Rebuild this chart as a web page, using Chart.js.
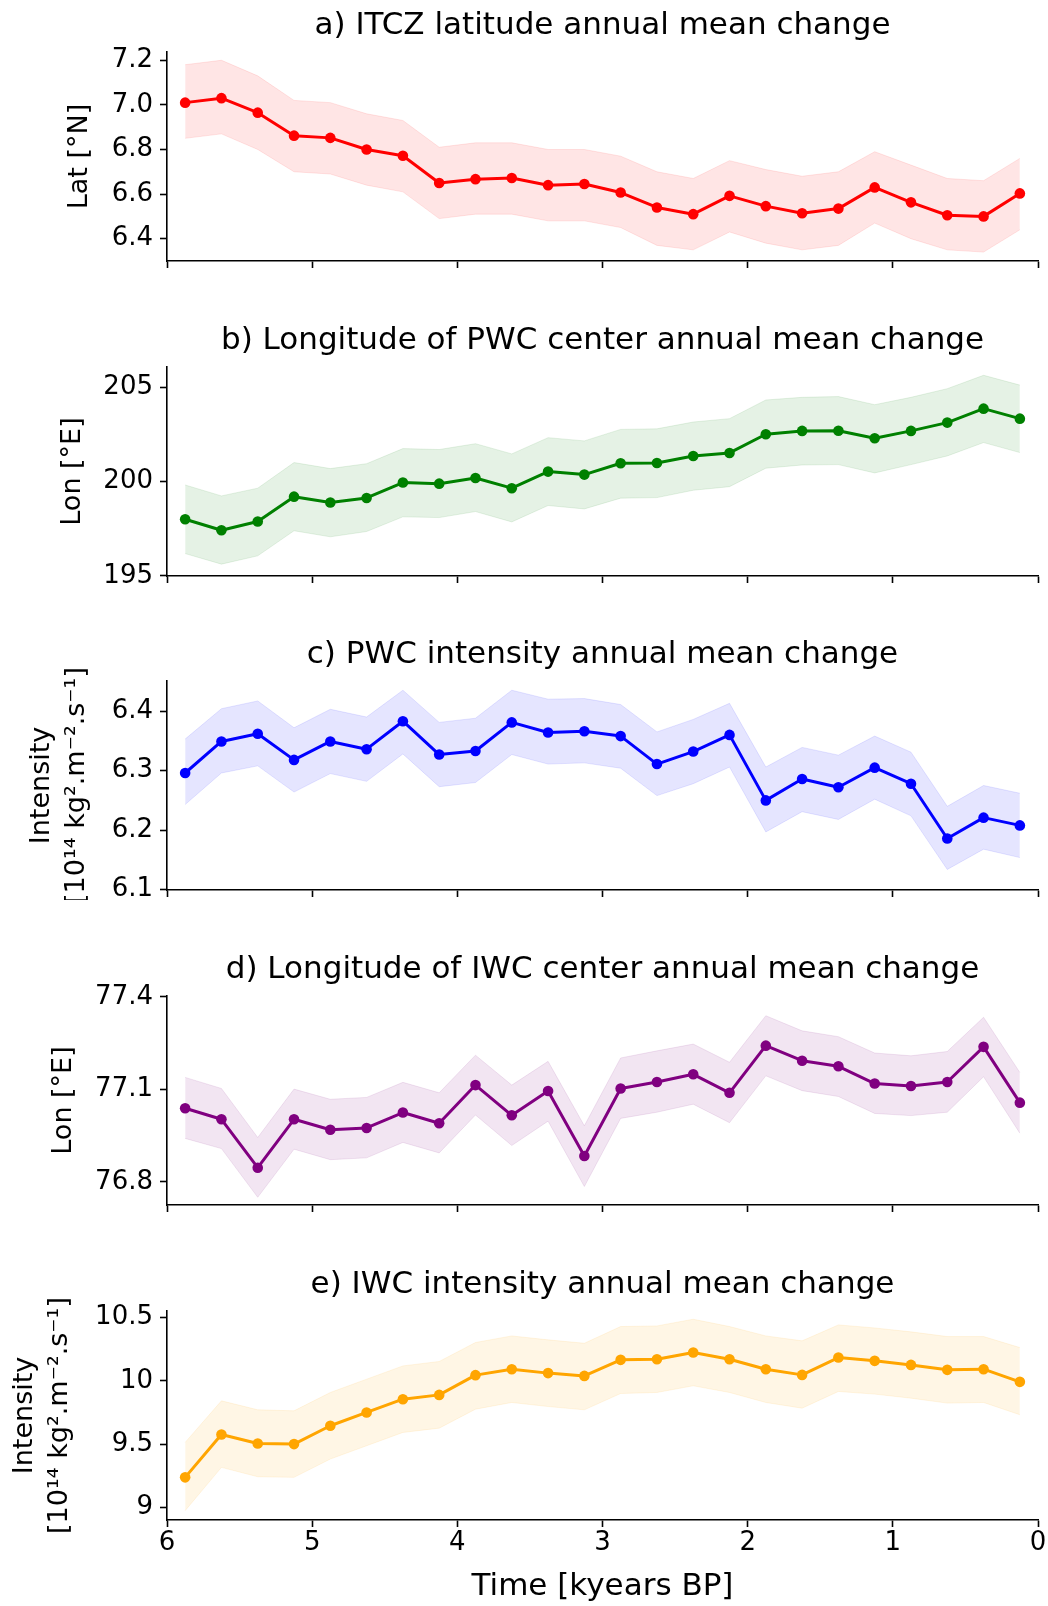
<!DOCTYPE html>
<html><head><meta charset="utf-8">
<script src="https://cdn.jsdelivr.net/npm/chart.js@4.4.1/dist/chart.umd.min.js"></script>
<style>
html,body{margin:0;padding:0;background:#fff;}
#wrap{position:relative;width:1048px;height:1606px;overflow:hidden;background:#fff;}
canvas{position:absolute;left:0;}
</style></head><body><div id="wrap">
<canvas id="c0" width="1048" height="271" style="top:0px"></canvas>
<canvas id="c1" width="1048" height="271" style="top:315px"></canvas>
<canvas id="c2" width="1048" height="271" style="top:629px"></canvas>
<canvas id="c3" width="1048" height="271" style="top:944px"></canvas>
<canvas id="c4" width="1048" height="347" style="top:1259px"></canvas>
</div>
<script>
// ---- data ----
const times = [5.875, 5.625, 5.375, 5.125, 4.875, 4.625, 4.375, 4.125, 3.875, 3.625, 3.375, 3.125,
               2.875, 2.625, 2.375, 2.125, 1.875, 1.625, 1.375, 1.125, 0.875, 0.625, 0.375, 0.125];
const timeTicks = [6, 5, 4, 3, 2, 1, 0];
const timeTickLabels = ['6', '5', '4', '3', '2', '1', '0'];

const itczMean  = [7.01, 7.03, 6.965, 6.862, 6.852, 6.80, 6.772, 6.65, 6.667, 6.672, 6.64, 6.645, 6.607, 6.54, 6.51, 6.592, 6.546, 6.514, 6.535, 6.63, 6.563, 6.505, 6.50, 6.603];
const itczUpper = [7.18, 7.20, 7.13, 7.02, 7.01, 6.96, 6.93, 6.81, 6.83, 6.83, 6.80, 6.80, 6.77, 6.70, 6.67, 6.75, 6.71, 6.68, 6.70, 6.79, 6.73, 6.67, 6.66, 6.76];
const itczLower = [6.85, 6.87, 6.80, 6.70, 6.69, 6.64, 6.61, 6.49, 6.51, 6.51, 6.48, 6.48, 6.45, 6.37, 6.35, 6.43, 6.38, 6.35, 6.37, 6.47, 6.40, 6.35, 6.34, 6.44];
const itczTicks = [6.4, 6.6, 6.8, 7.0, 7.2];
const itczTickLabels = ['6.4', '6.6', '6.8', '7.0', '7.2'];

const pwcLonMean  = [198.00, 197.42, 197.88, 199.20, 198.89, 199.13, 199.95, 199.89, 200.19, 199.65, 200.53, 200.37, 200.97, 200.99, 201.36, 201.52, 202.51, 202.69, 202.70, 202.30, 202.69, 203.13, 203.87, 203.34];
const pwcLonUpper = [199.82, 199.24, 199.65, 201.01, 200.69, 200.95, 201.75, 201.70, 202.01, 201.47, 202.33, 202.16, 202.77, 202.80, 203.16, 203.34, 204.33, 204.47, 204.51, 204.08, 204.47, 204.93, 205.64, 205.12];
const pwcLonLower = [196.18, 195.62, 196.06, 197.39, 197.07, 197.35, 198.13, 198.09, 198.41, 197.86, 198.73, 198.55, 199.12, 199.15, 199.54, 199.73, 200.71, 200.88, 200.90, 200.46, 200.90, 201.36, 202.07, 201.54];
const pwcLonTicks = [195, 200, 205];
const pwcLonTickLabels = ['195', '200', '205'];

const pwcIntMean  = [6.296, 6.349, 6.362, 6.318, 6.349, 6.336, 6.383, 6.327, 6.333, 6.381, 6.364, 6.366, 6.358, 6.311, 6.332, 6.360, 6.250, 6.286, 6.272, 6.305, 6.278, 6.186, 6.221, 6.208];
const pwcIntUpper = [6.353, 6.404, 6.417, 6.372, 6.403, 6.390, 6.435, 6.381, 6.388, 6.435, 6.420, 6.421, 6.411, 6.365, 6.386, 6.413, 6.306, 6.339, 6.326, 6.358, 6.331, 6.240, 6.275, 6.262];
const pwcIntLower = [6.243, 6.296, 6.308, 6.264, 6.295, 6.282, 6.328, 6.273, 6.280, 6.327, 6.311, 6.313, 6.304, 6.258, 6.278, 6.306, 6.197, 6.231, 6.218, 6.252, 6.224, 6.134, 6.168, 6.154];
const pwcIntTicks = [6.1, 6.2, 6.3, 6.4];
const pwcIntTickLabels = ['6.1', '6.2', '6.3', '6.4'];

const iwcLonMean  = [77.039, 77.003, 76.846, 77.003, 76.969, 76.975, 77.025, 76.990, 77.114, 77.016, 77.095, 76.884, 77.103, 77.124, 77.149, 77.089, 77.242, 77.193, 77.175, 77.119, 77.111, 77.124, 77.238, 77.057];
const iwcLonUpper = [77.139, 77.103, 76.944, 77.101, 77.068, 77.074, 77.123, 77.089, 77.211, 77.114, 77.191, 76.982, 77.202, 77.225, 77.247, 77.188, 77.339, 77.290, 77.271, 77.218, 77.209, 77.223, 77.334, 77.155];
const iwcLonLower = [76.941, 76.908, 76.750, 76.906, 76.872, 76.878, 76.928, 76.894, 77.017, 76.918, 76.997, 76.785, 77.006, 77.026, 77.052, 76.992, 77.144, 77.096, 77.077, 77.022, 77.015, 77.026, 77.141, 76.958];
const iwcLonTicks = [76.8, 77.1, 77.4];
const iwcLonTickLabels = ['76.8', '77.1', '77.4'];

const iwcIntMean  = [9.237, 9.576, 9.505, 9.500, 9.645, 9.750, 9.855, 9.889, 10.045, 10.092, 10.061, 10.039, 10.166, 10.171, 10.224, 10.171, 10.092, 10.047, 10.184, 10.158, 10.126, 10.087, 10.092, 9.992];
const iwcIntUpper = [9.513, 9.842, 9.771, 9.763, 9.908, 10.013, 10.118, 10.153, 10.303, 10.355, 10.324, 10.297, 10.429, 10.434, 10.487, 10.429, 10.355, 10.316, 10.442, 10.418, 10.387, 10.350, 10.350, 10.263];
const iwcIntLower = [8.974, 9.316, 9.242, 9.237, 9.382, 9.487, 9.592, 9.626, 9.776, 9.829, 9.797, 9.771, 9.900, 9.908, 9.961, 9.908, 9.829, 9.784, 9.916, 9.895, 9.863, 9.824, 9.829, 9.732];
const iwcIntTicks = [9, 9.5, 10, 10.5];
const iwcIntTickLabels = ['9', '9.5', '10', '10.5'];

const titles = [
  'a) ITCZ latitude annual mean change',
  'b) Longitude of PWC center annual mean change',
  'c) PWC intensity annual mean change',
  'd) Longitude of IWC center annual mean change',
  'e) IWC intensity annual mean change'
];
const yLabels = [
  'Lat [°N]',
  'Lon [°E]',
  ['Intensity', '[10¹⁴ kg².m⁻².s⁻¹]'],
  'Lon [°E]',
  ['Intensity', '[10¹⁴ kg².m⁻².s⁻¹]']
];
const xLabel = 'Time [kyears BP]';

// ---- drawing ----
const FAM = "'DejaVu Sans', sans-serif";
Chart.defaults.color = '#000';
Chart.defaults.font.family = FAM;

function pts(arr) { return times.map((t, i) => ({x: t, y: arr[i]})); }

function panel(id, o) {
  new Chart(document.getElementById(id), {
    type: 'line',
    data: {
      datasets: [
        {data: pts(o.mean), borderColor: o.color, backgroundColor: o.color, borderWidth: 3,
         pointRadius: 5.3, pointHoverRadius: 5.3, pointBorderWidth: 0, pointBackgroundColor: o.color,
         fill: false, tension: 0, borderJoinStyle: 'round'},
        {data: pts(o.upper), borderColor: o.band, borderWidth: 1, pointRadius: 0,
         backgroundColor: o.band, fill: '+1', tension: 0},
        {data: pts(o.lower), borderColor: o.band, borderWidth: 1, pointRadius: 0,
         fill: false, tension: 0}
      ]
    },
    options: {
      responsive: false, animation: false, devicePixelRatio: 1,
      events: [],
      layout: {padding: {left: 0, right: 10, top: 0, bottom: 0}},
      plugins: {
        legend: {display: false}, tooltip: {enabled: false},
        title: {display: true, text: o.title, fullSize: false, color: '#000',
                font: {family: FAM, size: 31, weight: 'normal', lineHeight: 1.2},
                padding: {top: 7.4, bottom: 7.4}}
      },
      scales: {
        x: {
          type: 'linear', min: 0, max: 6, reverse: true,
          afterBuildTicks: s => { s.ticks = timeTicks.map(v => ({value: v})); },
          afterFit: s => { s.height = o.xh; s.paddingLeft = 0; s.paddingRight = 0; },
          ticks: {display: o.showX, color: '#000', padding: 0.5,
                  font: {family: FAM, size: 26, lineHeight: 1.2},
                  callback: (v, i) => timeTickLabels[i]},
          grid: {display: true, drawOnChartArea: false, drawTicks: true, tickLength: 7,
                 tickWidth: 1.6, tickColor: '#000'},
          border: {display: true, color: '#000', width: 1.6},
          title: {display: o.showX, text: xLabel, color: '#000',
                  font: {family: FAM, size: 31, lineHeight: 1.2}, padding: {top: 0, bottom: 0}}
        },
        y: {
          type: 'linear', min: o.min, max: o.max,
          afterBuildTicks: s => { s.ticks = o.ticks.map(v => ({value: v})); },
          afterFit: s => { s.width = 167; s.paddingTop = 0; s.paddingBottom = 0; },
          ticks: {color: '#000', padding: 7, font: {family: FAM, size: 26},
                  callback: (v, i) => o.tickLabels[i]},
          grid: {display: true, drawOnChartArea: false, drawTicks: true, tickLength: 7,
                 tickWidth: 1.6, tickColor: '#000'},
          border: {display: true, color: '#000', width: 1.6},
          title: {display: true, text: o.ylabel, color: '#000',
                  font: {family: FAM, size: 27, lineHeight: o.ylh},
                  padding: {top: o.ylpad, bottom: 0}}
        }
      }
    }
  });
}

panel('c0', {title: titles[0], ylabel: yLabels[0], mean: itczMean, upper: itczUpper, lower: itczLower,
  color: '#ff0000', band: 'rgba(255,0,0,0.1)', min: 6.300, max: 7.237,
  ticks: itczTicks, tickLabels: itczTickLabels, ylpad: 63.8, ylh: 1.2, xh: 10, showX: false});
panel('c1', {title: titles[1], ylabel: yLabels[1], mean: pwcLonMean, upper: pwcLonUpper, lower: pwcLonLower,
  color: '#008000', band: 'rgba(0,128,0,0.1)', min: 194.99, max: 206.08,
  ticks: pwcLonTicks, tickLabels: pwcLonTickLabels, ylpad: 56.3, ylh: 1.2, xh: 10, showX: false});
panel('c2', {title: titles[2], ylabel: yLabels[2], mean: pwcIntMean, upper: pwcIntUpper, lower: pwcIntLower,
  color: '#0000ff', band: 'rgba(0,0,255,0.1)', min: 6.0995, max: 6.4505,
  ticks: pwcIntTicks, tickLabels: pwcIntTickLabels, ylpad: 24, ylh: 1.3, xh: 10, showX: false});
panel('c3', {title: titles[3], ylabel: yLabels[3], mean: iwcLonMean, upper: iwcLonUpper, lower: iwcLonLower,
  color: '#800080', band: 'rgba(128,0,128,0.1)', min: 76.725, max: 77.403,
  ticks: iwcLonTicks, tickLabels: iwcLonTickLabels, ylpad: 47.6, ylh: 1.2, xh: 10, showX: false});
panel('c4', {title: titles[4], ylabel: yLabels[4], mean: iwcIntMean, upper: iwcIntUpper, lower: iwcIntLower,
  color: '#ffa500', band: 'rgba(255,165,0,0.1)', min: 8.9, max: 10.552,
  ticks: iwcIntTicks, tickLabels: iwcIntTickLabels, ylpad: 7.5, ylh: 1.3, xh: 86, showX: true});
</script>
</body></html>
